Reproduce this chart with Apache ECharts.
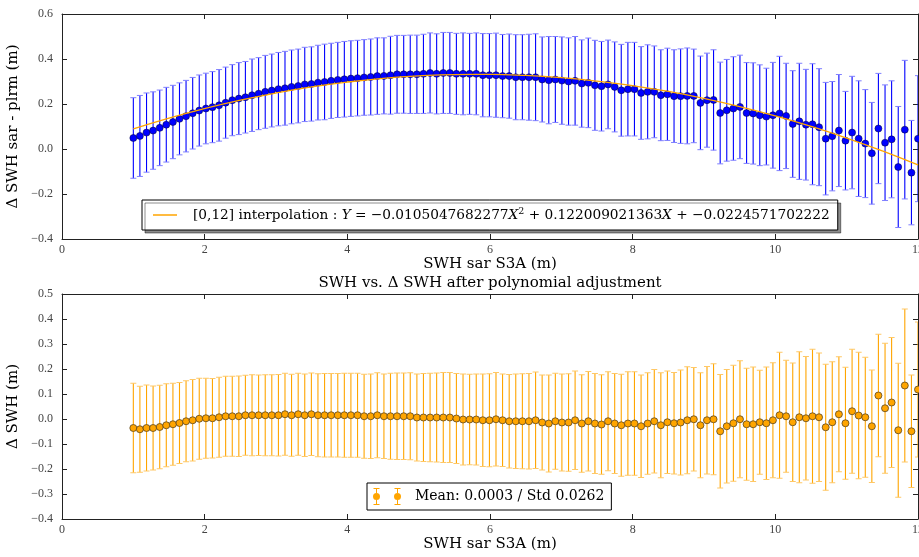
<!DOCTYPE html>
<html><head><meta charset="utf-8">
<script src="https://cdn.jsdelivr.net/npm/echarts@6/dist/echarts.min.js"></script>
<style>html,body{margin:0;padding:0;background:#fff}#c{width:919px;height:557px}</style>
</head><body><div id="c"></div>
<script>
// SWH bins (m)
const xValues = [1.000,1.092,1.185,1.277,1.370,1.462,1.555,1.647,1.739,1.832,1.924,2.017,2.109,2.202,2.294,2.387,2.479,2.571,2.664,2.756,2.849,2.941,3.034,3.126,3.218,3.311,3.403,3.496,3.588,3.681,3.773,3.866,3.958,4.050,4.143,4.235,4.328,4.420,4.513,4.605,4.697,4.790,4.882,4.975,5.067,5.160,5.252,5.345,5.437,5.529,5.622,5.714,5.807,5.899,5.992,6.084,6.176,6.269,6.361,6.454,6.546,6.639,6.731,6.824,6.916,7.008,7.101,7.193,7.286,7.378,7.471,7.563,7.655,7.748,7.840,7.933,8.025,8.118,8.210,8.303,8.395,8.487,8.580,8.672,8.765,8.857,8.950,9.042,9.134,9.227,9.319,9.412,9.504,9.597,9.689,9.782,9.874,9.966,10.059,10.151,10.244,10.336,10.429,10.521,10.613,10.706,10.798,10.891,10.983,11.076,11.168,11.261,11.353,11.445,11.538,11.630,11.723,11.815,11.908,12.000];
// Top panel: mean delta SWH (sar - plrm) and std
const topMean = [0.049,0.058,0.073,0.082,0.094,0.108,0.120,0.134,0.146,0.159,0.171,0.180,0.186,0.194,0.206,0.217,0.224,0.230,0.239,0.246,0.254,0.260,0.266,0.270,0.276,0.280,0.287,0.289,0.295,0.298,0.303,0.307,0.310,0.313,0.315,0.318,0.320,0.324,0.325,
0.328,0.332,0.332,0.332,0.332,0.334,0.338,0.334,0.338,0.338,0.334,0.334,0.334,0.334,0.328,0.328,0.328,0.324,0.324,0.319,0.319,0.319,0.319,0.309,0.306,0.309,0.304,0.300,0.303,0.291,0.294,0.283,0.279,0.287,0.276,0.261,0.266,0.266,0.249,0.254,
0.254,0.239,0.243,0.235,0.235,0.236,0.236,0.205,0.217,0.218,0.160,0.172,0.180,0.187,0.160,0.158,0.150,0.144,0.150,0.158,0.147,0.111,0.123,0.108,0.110,0.097,0.046,0.057,0.082,0.037,0.073,0.046,0.024,-0.019,0.091,0.028,0.043,-0.080,0.086,-0.105,0.046];
const topStd = [0.179,0.180,0.176,0.172,0.168,0.166,0.163,0.160,0.159,0.159,0.158,0.157,0.158,0.159,0.158,0.158,0.160,0.159,0.161,0.160,0.162,0.162,0.163,0.164,0.164,0.164,0.165,0.165,0.166,0.168,0.167,0.167,0.168,0.168,0.168,0.168,0.169,0.170,0.169,
0.173,0.173,0.173,0.174,0.174,0.176,0.178,0.178,0.180,0.180,0.180,0.182,0.180,0.182,0.185,0.185,0.187,0.185,0.187,0.189,0.189,0.191,0.193,0.189,0.194,0.191,0.194,0.194,0.197,0.194,0.199,0.200,0.199,0.197,0.200,0.204,0.208,0.208,0.206,0.209,
0.204,0.202,0.205,0.206,0.210,0.213,0.208,0.208,0.209,0.223,0.226,0.226,0.230,0.230,0.224,0.225,0.224,0.215,0.235,0.254,0.234,0.237,0.258,0.246,0.269,0.260,0.250,0.243,0.249,0.219,0.250,0.257,0.240,0.226,0.245,0.257,0.260,0.269,0.308,0.232,0.280];
// Bottom panel: delta SWH after polynomial adjustment
const bottomMean = [-0.036,-0.041,-0.036,-0.036,-0.032,-0.025,-0.021,-0.016,-0.009,-0.005,0.001,0.003,0.003,0.007,0.011,0.011,0.011,0.015,0.015,0.015,0.015,0.015,0.015,0.019,0.015,0.019,0.015,0.019,0.015,0.015,0.015,0.015,0.015,0.015,0.015,0.011,0.011,0.015,0.011,
0.011,0.011,0.011,0.011,0.006,0.006,0.006,0.006,0.006,0.006,0.002,-0.002,-0.002,-0.002,-0.005,-0.005,-0.001,-0.005,-0.009,-0.009,-0.009,-0.009,-0.005,-0.014,-0.018,-0.009,-0.014,-0.014,-0.005,-0.018,-0.009,-0.018,-0.022,-0.009,-0.018,-0.025,-0.018,-0.018,-0.029,-0.018,
-0.009,-0.025,-0.013,-0.017,-0.014,-0.005,-0.001,-0.025,-0.005,-0.001,-0.049,-0.029,-0.017,-0.001,-0.021,-0.021,-0.013,-0.017,-0.005,0.015,0.011,-0.013,0.007,0.003,0.011,0.007,-0.033,-0.013,0.019,-0.017,0.031,0.014,0.007,-0.029,0.094,0.043,0.066,-0.045,0.134,-0.049,0.118];
const bottomStd = [0.179,0.172,0.172,0.168,0.167,0.166,0.164,0.162,0.162,0.163,0.162,0.160,0.159,0.160,0.160,
0.160,0.161,0.160,0.162,0.161,0.162,0.162,0.163,0.164,0.164,0.164,0.165,0.165,0.166,0.167,0.167,0.167,0.168,0.168,0.168,0.168,0.169,0.170,0.169,
0.172,0.173,0.173,0.174,0.174,0.176,0.177,0.178,0.180,0.180,0.180,0.182,0.181,0.182,0.185,0.186,0.187,0.185,0.187,0.189,0.190,0.191,0.193,0.190,0.194,0.192,0.194,0.195,0.197,0.195,0.199,0.200,0.199,0.198,0.200,0.204,0.207,0.207,0.205,0.203,
0.207,0.210,0.205,0.203,0.210,0.214,0.207,0.210,0.215,0.222,0.227,0.227,0.232,0.234,0.224,0.229,0.208,0.225,0.230,0.252,0.224,0.237,0.262,0.247,0.268,0.257,0.252,0.242,0.230,0.224,0.248,0.253,0.240,0.225,0.245,0.260,0.260,0.268,0.306,0.225,0.270];
// Fitted polynomial curve values (as drawn)
const fitX = [1,1.5,2,2.5,3,3.5,4,4.5,5,5.5,6,6.5,7,7.5,8,8.5,9,9.5,10,10.5,11,11.5,12];
const fitY = [0.0890,0.1369,0.1795,0.2169,0.2490,0.2759,0.2975,0.3139,0.3250,0.3308,0.3314,0.3268,0.3169,0.3017,0.2813,0.2557,0.2247,0.1886,0.1472,0.1005,0.0486,-0.0086,-0.0710];
const fitLabel = '[0,12] interpolation';
const meanLabel = 'Mean: 0.0003 / Std 0.0262';
const xAxisTitle = 'SWH sar S3A (m)';
const topYTitle = '\u0394 SWH sar - plrm (m)';
const bottomYTitle = '\u0394 SWH (m)';
const bottomTitle = 'SWH vs. \u0394 SWH after polynomial adjustment';

const SERIF = '"DejaVu Serif", serif';
const TICKF = '"Liberation Serif", "DejaVu Serif", serif';
const fmt = v => (v < 0 ? '\u2212' : '') + Math.abs(v).toFixed(1);

function errRender(color, capColor) {
  return function (params, api) {
    const x = api.value(0), lo = api.value(1), hi = api.value(2);
    const a = api.coord([x, hi]), b = api.coord([x, lo]);
    const w = 3;
    return {type: 'group', children: [
      {type: 'line', shape: {x1: a[0], y1: a[1], x2: b[0], y2: b[1]}, style: {stroke: color, lineWidth: 1.1}},
      {type: 'line', shape: {x1: a[0] - w, y1: a[1], x2: a[0] + w, y2: a[1]}, style: {stroke: capColor, lineWidth: 1}},
      {type: 'line', shape: {x1: b[0] - w, y1: b[1], x2: b[0] + w, y2: b[1]}, style: {stroke: capColor, lineWidth: 1}}
    ]};
  };
}

function xAx(gi, bottom) {
  return {
    type: 'value', gridIndex: gi, position: bottom ? 'bottom' : 'top', min: 0, max: 12, interval: 2,
    axisLine: {show: true, onZero: false, lineStyle: {color: '#222', width: 1}},
    axisTick: {show: true, inside: true, length: 5, lineStyle: {color: '#222'}},
    axisLabel: {show: bottom, margin: 5, fontFamily: TICKF, fontSize: 12, color: '#444', formatter: v => String(v)},
    splitLine: {show: false},
    name: bottom ? xAxisTitle : '', nameLocation: 'middle', nameGap: 18,
    nameTextStyle: {fontFamily: SERIF, fontSize: 15, color: '#000'}
  };
}
function yAx(gi, left, min, max, interval, name) {
  return {
    type: 'value', gridIndex: gi, position: left ? 'left' : 'right', min: min, max: max, interval: interval,
    axisLine: {show: true, onZero: false, lineStyle: {color: '#222', width: 1}},
    axisTick: {show: true, inside: true, length: 5, lineStyle: {color: '#222'}},
    axisLabel: {show: left, margin: 9, fontFamily: TICKF, fontSize: 12, color: '#444', formatter: fmt},
    splitLine: {show: false},
    name: left ? name : '', nameLocation: 'middle', nameGap: 29,
    nameTextStyle: {fontFamily: SERIF, fontSize: 15, color: '#000'}
  };
}

const legendIcon = 'path://M3,0 L9,0 L9,1 L3,1 Z M5.5,1 L6.5,1 L6.5,5 L5.5,5 Z M5.5,12 L6.5,12 L6.5,16 L5.5,16 Z M3,16 L9,16 L9,17 L3,17 Z ' +
  'M9.5,8.5 A3.5,3.5 0 1 1 2.5,8.5 A3.5,3.5 0 1 1 9.5,8.5 Z ' +
  'M24,0 L30,0 L30,1 L24,1 Z M26.5,1 L27.5,1 L27.5,5 L26.5,5 Z M26.5,12 L27.5,12 L27.5,16 L26.5,16 Z M24,16 L30,16 L30,17 L24,17 Z ' +
  'M30.5,8.5 A3.5,3.5 0 1 1 23.5,8.5 A3.5,3.5 0 1 1 30.5,8.5 Z';

const chart = echarts.init(document.getElementById('c'), null, {renderer: 'canvas'});
chart.setOption({
  animation: false,
  backgroundColor: '#fff',
  title: {text: bottomTitle, left: 490, textAlign: 'center', top: 276, padding: 0,
    textStyle: {fontFamily: SERIF, fontSize: 15, fontWeight: 'normal', color: '#000'}},
  grid: [
    {left: 62, top: 14, width: 856, height: 225, outerBoundsMode: 'none', containLabel: false},
    {left: 62, top: 294, width: 856, height: 225, outerBoundsMode: 'none', containLabel: false}
  ],
  xAxis: [xAx(0, true), xAx(0, false), xAx(1, true), xAx(1, false)],
  yAxis: [yAx(0, true, -0.4, 0.6, 0.2, topYTitle), yAx(0, false, -0.4, 0.6, 0.2, ''),
          yAx(1, true, -0.4, 0.5, 0.1, bottomYTitle), yAx(1, false, -0.4, 0.5, 0.1, '')],
  legend: [
    {data: [{name: fitLabel, icon: 'rect'}], left: 142, top: 200, orient: 'horizontal',
     itemWidth: 24, itemHeight: 1.5, padding: [7, 8, 7, 11],
     backgroundColor: '#fff', borderColor: '#000', borderWidth: 1, borderRadius: 0,
     shadowColor: 'rgba(0,0,0,0.45)', shadowBlur: 0, shadowOffsetX: 3, shadowOffsetY: 3,
     formatter: () => '{f|[0,12] interpolation : }{i|Y}{n| = \u22120.0105047682277}{i|X}{s|2}{n| + 0.122009021363}{i|X}{n| + \u22120.0224571702222}',
     textStyle: {fontFamily: SERIF, fontSize: 13.7, color: '#000', lineHeight: 16,
       rich: {
         f: {fontFamily: SERIF, fontSize: 13.7, color: '#000', padding: [0, 0, 0, 11], lineHeight: 16},
         n: {fontFamily: SERIF, fontSize: 13.7, color: '#000', lineHeight: 16},
         i: {fontFamily: SERIF, fontSize: 13.7, color: '#000', fontStyle: 'italic', lineHeight: 16},
         s: {fontFamily: SERIF, fontSize: 9.5, color: '#000', verticalAlign: 'top', lineHeight: 16}
       }}},
    {data: [{name: meanLabel, icon: legendIcon, itemStyle: {color: '#ffa500', borderWidth: 0}}], left: 367, top: 483, orient: 'horizontal',
     itemWidth: 32, itemHeight: 17, padding: [5, 7, 5, 6],
     backgroundColor: '#fff', borderColor: '#000', borderWidth: 1, borderRadius: 0,
     formatter: n => '{t|' + n + '}',
     textStyle: {fontFamily: SERIF, fontSize: 14, color: '#000',
       rich: {t: {fontFamily: SERIF, fontSize: 14, color: '#000', padding: [0, 0, 0, 7]}}}}
  ],
  series: [
    {type: 'custom', name: 'topErr', xAxisIndex: 0, yAxisIndex: 0, clip: true, z: 2,
     encode: {x: 0, y: [1, 2]}, renderItem: errRender('#0000ff', '#7f7fff'),
     data: xValues.map((x, i) => [x, topMean[i] - topStd[i], topMean[i] + topStd[i]])},
    {type: 'scatter', name: 'topMean', xAxisIndex: 0, yAxisIndex: 0, z: 3, symbolSize: 7,
     itemStyle: {color: '#0000ff', borderColor: '#000033', borderWidth: 0.5, opacity: 1},
     data: xValues.map((x, i) => [x, topMean[i]])},
    {type: 'line', name: fitLabel, xAxisIndex: 0, yAxisIndex: 0, z: 4, smooth: true, symbol: 'none',
     lineStyle: {color: '#ffa500', width: 1.3}, itemStyle: {color: '#ffa500'},
     data: fitX.map((x, i) => [x, fitY[i]])},
    {type: 'custom', name: 'botErr', xAxisIndex: 2, yAxisIndex: 2, clip: true, z: 2,
     encode: {x: 0, y: [1, 2]}, renderItem: errRender('#ffa500', '#ffc866'),
     data: xValues.map((x, i) => [x, bottomMean[i] - bottomStd[i], bottomMean[i] + bottomStd[i]])},
    {type: 'scatter', name: meanLabel, xAxisIndex: 2, yAxisIndex: 2, z: 3, symbolSize: 7,
     itemStyle: {color: '#ffa500', borderColor: '#5a4520', borderWidth: 0.8, opacity: 1},
     data: xValues.map((x, i) => [x, bottomMean[i]])}
  ]
});
</script></body></html>
